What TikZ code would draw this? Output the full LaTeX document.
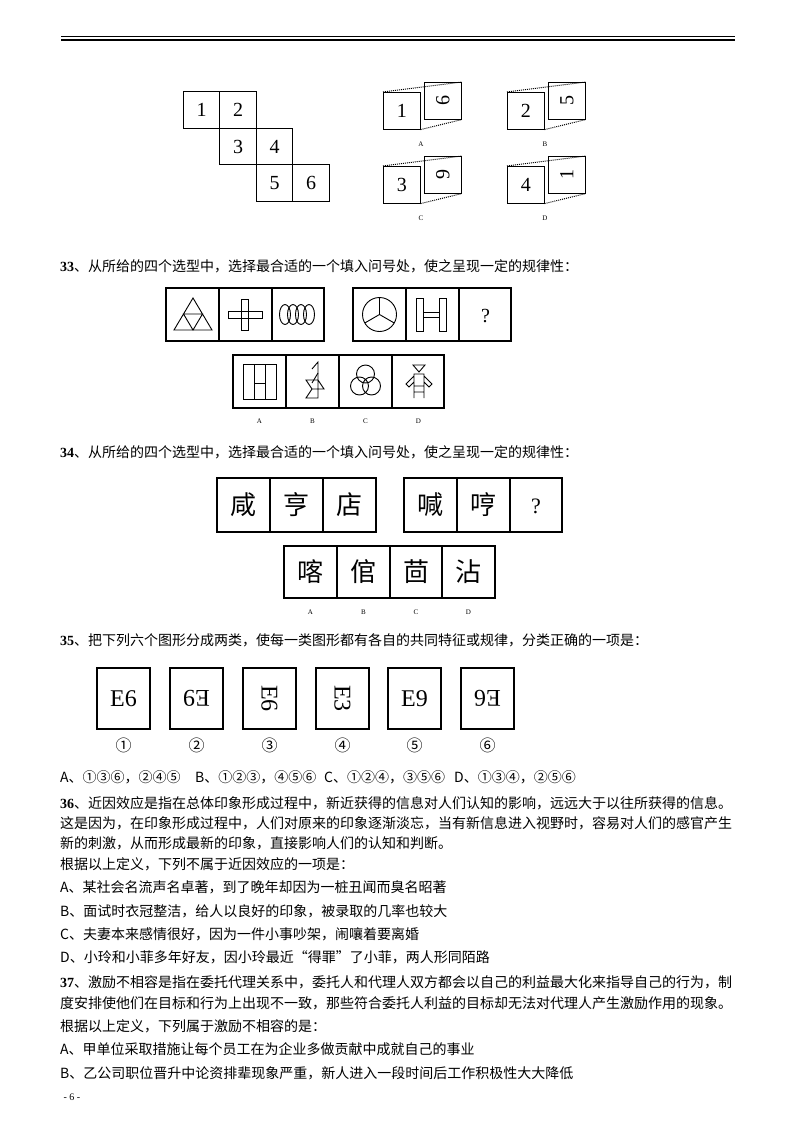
\documentclass[tikz,border=0pt]{standalone}
\usepackage{fontspec}
\setmainfont{Liberation Serif}
\newfontfamily\cjk{Noto Sans CJK SC}
\begin{document}
\begin{tikzpicture}[x=1pt,y=-1pt,
  bx/.style={draw,line width=1.1pt},
  cell/.style={draw,line width=1.1pt,minimum width=36.5pt,minimum height=36.5pt,inner sep=0,font=\fontsize{20}{20}\selectfont},
  lab/.style={font=\fontsize{7}{7}\selectfont},
  fig/.style={line width=0.9pt},
  txt/.style={anchor=west,inner sep=0,font=\cjk\fontsize{14}{14}\selectfont},
  big/.style={font=\cjk\fontsize{26}{26}\selectfont},
  dl/.style={densely dotted,line width=1pt}]
\useasboundingbox (0,0) rectangle (800,1132);
\fill[white] (0,0) rectangle (800,1132);
% header
\draw[line width=1.2pt] (61,36.5) -- (735,36.5);
\draw[line width=1.2pt] (61,40) -- (735,40);
% Q32 net
\node[cell] (n1) at (201.5,110) {1};
\node[cell] (n2) at (238,110) {2};
\node[cell] (n3) at (238,146.5) {3};
\node[cell] (n4) at (274.5,146.5) {4};
\node[cell] (n5) at (274.5,183) {5};
\node[cell] (n6) at (311,183) {6};
% options
\foreach \fx/\fy/\a/\b/\L in {383/92/1/6/A, 507/92/2/5/B, 383/166/3/9/C, 507/166/4/1/D}{
  \node[cell,anchor=north west] (f\L) at (\fx,\fy) {\a};
  \node[cell,anchor=north west] (s\L) at (\fx+41,\fy-10) {\rotatebox{90}{\b}};
  \draw[dl] (f\L.north west) -- (s\L.north east);
  \draw[dl] (f\L.south east) -- (s\L.south east);
  \node[lab] (l\L) at (\fx+38,\fy+52) {\L};
}
% Q33
\node[txt] (t33) at (60,266) {\textbf{\fontspec{Liberation Serif}33}、从所给的四个选型中，选择最合适的一个填入问号处，使之呈现一定的规律性：};
\draw[bx] (166,288) rectangle (324,341) (219,288)--(219,341) (272,288)--(272,341);
\draw[bx] (353,288) rectangle (511,341) (406,288)--(406,341) (459,288)--(459,341);
% triforce
\draw[fig] (174,330) -- (212,330) -- (193,298) -- cycle (183.5,314)--(202.5,314)--(193,330)--cycle;
% cross
\draw[fig] (228,311) rectangle (262,318) (241.5,299) rectangle (248.5,330);
% rings
\foreach \cx in {285,293,301,309} \draw[fig] (\cx,314.5) ellipse (5.5pt and 10pt);
% mercedes
\draw[fig] (379.5,314.5) circle (17pt) (379.5,314.5)--(379.5,297.5) (379.5,314.5)--++(30:17) (379.5,314.5)--++(150:17);
% H double
\draw[fig] (416,298) rectangle (423,331) (439,298) rectangle (446,331) (423,312)--(439,312) (423,317)--(439,317);
\node[font=\fontsize{20}{20}\selectfont] (q1) at (485.5,316) {?};
% options row
\draw[bx] (233,355) rectangle (444,408) (286,355)--(286,408) (339,355)--(339,408) (392,355)--(392,408);
\draw[fig] (243,364) rectangle (276,399) (254,364)--(254,399) (265,364)--(265,399) (254,383)--(265,383);
\draw[fig] (312,369)--(318,362)--(318,398)--(306,398)--(312,389)--(324,389)--(318,380)--(306,380)--(312,389);
\draw[fig] (312,383)--(318,373);
\draw[fig] (365.5,374) circle (9pt) (359.5,386) circle (9pt) (371.5,386) circle (9pt);
\begin{scope}[xshift=53pt]
\draw[fig] (360,365)--(372,365)--(366,372)--cycle (361,374) rectangle (371,386) (361,386)--(361,398) (371,386)--(371,398) (361,392)--(371,392) (361,376)--(353,384)--(356,387)--(361,382) (371,376)--(379,384)--(376,387)--(371,382);
\end{scope}
\foreach \x/\L in {259.5/A,312.5/B,365.5/C,418.5/D} \node[lab] (o\L) at (\x,421) {\L};
% Q34
\node[txt] (t34) at (60,452) {\textbf{\fontspec{Liberation Serif}34}、从所给的四个选型中，选择最合适的一个填入问号处，使之呈现一定的规律性：};
\draw[bx] (217,478) rectangle (376,532) (270,478)--(270,532) (323,478)--(323,532);
\draw[bx] (404,478) rectangle (562,532) (457,478)--(457,532) (510,478)--(510,532);
\draw[bx] (284,546) rectangle (495,598) (337,546)--(337,598) (390,546)--(390,598) (442,546)--(442,598);
\node[big] (c1) at (243.5,505) {咸};
\node[big] (c2) at (296.5,505) {亨};
\node[big] (c3) at (349.5,505) {店};
\node[big] (c4) at (430.5,505) {喊};
\node[big] (c5) at (483.5,505) {哼};
\node[font=\fontsize{22}{22}\selectfont] (c6) at (536,506) {?};
\node[big] (d1) at (310.5,572) {喀};
\node[big] (d2) at (363.5,572) {倌};
\node[big] (d3) at (416,572) {茴};
\node[big] (d4) at (468.5,572) {沾};
\foreach \x/\L in {310.5/A,363.5/B,416/C,468.5/D} \node[lab] (p\L) at (\x,612) {\L};
% Q35
\node[txt] (t35) at (60,640) {\textbf{\fontspec{Liberation Serif}35}、把下列六个图形分成两类，使每一类图形都有各自的共同特征或规律，分类正确的一项是：};
\foreach \x/\n in {97/1,170/2,243/3,316/4,388/5,461/6}{
  \draw[line width=1.1pt] (\x,668) rectangle (\x+53,729);
}
\node[font=\fontsize{24}{24}\selectfont] (e1) at (123.5,698.5) {E6};
\node[font=\fontsize{24}{24}\selectfont] (e2) at (196.5,698.5) {\rotatebox{180}{E9}};
\node[font=\fontsize{24}{24}\selectfont,rotate=-90] (e3) at (269.5,698.5) {E6};
\node[font=\fontsize{24}{24}\selectfont,rotate=-90] (e4) at (342.5,698.5) {E3};
\node[font=\fontsize{24}{24}\selectfont] (e5) at (414.5,698.5) {E9};
\node[font=\fontsize{24}{24}\selectfont] (e6) at (487.5,698.5) {\rotatebox{180}{E6}};
\foreach \x/\c in {123.5/①,196.5/②,269.5/③,342.5/④,414.5/⑤,487.5/⑥} \node[font=\cjk\fontsize{16}{16}\selectfont] at (\x,745) {\c};
\node[txt] (a35) at (60,777) {A、①③⑥，②④⑤};
\node[txt] (b35) at (195,777) {B、①②③，④⑤⑥};
\node[txt] (c35) at (324,777) {C、①②④，③⑤⑥};
\node[txt] (d35) at (454,777) {D、①③④，②⑤⑥};
% Q36
\node[txt] (l1) at (60,803) {\textbf{\fontspec{Liberation Serif}36}、近因效应是指在总体印象形成过程中，新近获得的信息对人们认知的影响，远远大于以往所获得的信息。};
\node[txt] (l2) at (60,823) {这是因为，在印象形成过程中，人们对原来的印象逐渐淡忘，当有新信息进入视野时，容易对人们的感官产生};
\node[txt] (l3) at (60,843) {新的刺激，从而形成最新的印象，直接影响人们的认知和判断。};
\node[txt] (l4) at (60,864) {根据以上定义，下列不属于近因效应的一项是：};
\node[txt] (l5) at (60,887) {A、某社会名流声名卓著，到了晚年却因为一桩丑闻而臭名昭著};
\node[txt] (l6) at (60,911) {B、面试时衣冠整洁，给人以良好的印象，被录取的几率也较大};
\node[txt] (l7) at (60,934) {C、夫妻本来感情很好，因为一件小事吵架，闹嚷着要离婚};
\node[txt] (l8) at (60,957) {D、小玲和小菲多年好友，因小玲最近“得罪”了小菲，两人形同陌路};
\node[txt] (l9) at (60,982) {\textbf{\fontspec{Liberation Serif}37}、激励不相容是指在委托代理关系中，委托人和代理人双方都会以自己的利益最大化来指导自己的行为，制};
\node[txt] (l10) at (60,1003) {度安排使他们在目标和行为上出现不一致，那些符合委托人利益的目标却无法对代理人产生激励作用的现象。};
\node[txt] (l11) at (60,1026) {根据以上定义，下列属于激励不相容的是：};
\node[txt] (l12) at (60,1049) {A、甲单位采取措施让每个员工在为企业多做贡献中成就自己的事业};
\node[txt] (l13) at (60,1073) {B、乙公司职位晋升中论资排辈现象严重，新人进入一段时间后工作积极性大大降低};
\node[anchor=west,font=\fontsize{10}{10}\selectfont] (pg) at (60,1097) {- 6 -};
\end{tikzpicture}
\end{document}
